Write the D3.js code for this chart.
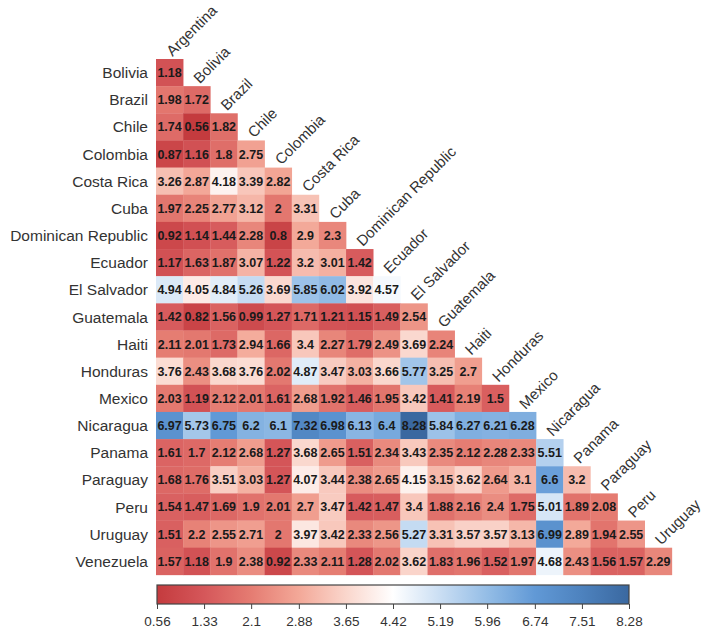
<!DOCTYPE html>
<html><head><meta charset="utf-8">
<script src="https://cdn.jsdelivr.net/npm/d3@7/dist/d3.min.js"></script>
<style>body{margin:0;background:#fff}svg{display:block}</style>
</head><body>
<script>
const columns = ["Argentina","Bolivia","Brazil","Chile","Colombia","Costa Rica","Cuba","Dominican Republic","Ecuador","El Salvador","Guatemala","Haiti","Honduras","Mexico","Nicaragua","Panama","Paraguay","Peru","Uruguay"];
const rows = ["Bolivia","Brazil","Chile","Colombia","Costa Rica","Cuba","Dominican Republic","Ecuador","El Salvador","Guatemala","Haiti","Honduras","Mexico","Nicaragua","Panama","Paraguay","Peru","Uruguay","Venezuela"];

const bolivia = [1.18];
const brazil = [1.98,1.72];
const chile = [1.74,0.56,1.82];
const colombia = [0.87,1.16,1.8,2.75];
const costaRica = [3.26,2.87,4.18,3.39,2.82];
const cuba = [1.97,2.25,2.77,3.12,2,3.31];
const dominicanRepublic = [0.92,1.14,1.44,2.28,0.8,2.9,2.3];
const ecuador = [1.17,1.63,1.87,3.07,1.22,3.2,3.01,1.42];
const elSalvador = [4.94,4.05,4.84,5.26,3.69,5.85,6.02,3.92,4.57];
const guatemala = [1.42,0.82,1.56,0.99,1.27,1.71,1.21,1.15,1.49,2.54];
const haiti = [2.11,2.01,1.73,2.94,1.66,3.4,2.27,1.79,2.49,3.69,2.24];
const honduras = [3.76,2.43,3.68,3.76,2.02,4.87,3.47,3.03,3.66,5.77,3.25,2.7];
const mexico = [2.03,1.19,2.12,2.01,1.61,2.68,1.92,1.46,1.95,3.42,1.41,2.19,1.5];
const nicaragua = [6.97,5.73,6.75,6.2,6.1,7.32,6.98,6.13,6.4,8.28,5.84,6.27,6.21,6.28];
const panama = [1.61,1.7,2.12,2.68,1.27,3.68,2.65,1.51,2.34,3.43,2.35,2.12,2.28,2.33,5.51];
const paraguay = [1.68,1.76,3.51,3.03,1.27,4.07,3.44,2.38,2.65,4.15,3.15,3.62,2.64,3.1,6.6,3.2];
const peru = [1.54,1.47,1.69,1.9,2.01,2.7,3.47,1.42,1.47,3.4,1.88,2.16,2.4,1.75,5.01,1.89,2.08];
const uruguay = [1.51,2.2,2.55,2.71,2,3.97,3.42,2.33,2.56,5.27,3.31,3.57,3.57,3.13,6.99,2.89,1.94,2.55];
const venezuela = [1.57,1.18,1.9,2.38,0.92,2.33,2.11,1.28,2.02,3.62,1.83,1.96,1.52,1.97,4.68,2.43,1.56,1.57,2.29];

const colorTicks = [0.56,1.33,2.1,2.88,3.65,4.42,5.19,5.96,6.74,7.51,8.28];
const colorStops = ["#c43b3e","#d5575a","#e57c72","#f3a898","#fad6cc","#ffffff","#cadef3","#94bde6","#6199d6","#4d82be","#3a68a0"];

const rowData = [bolivia,brazil,chile,colombia,costaRica,cuba,dominicanRepublic,ecuador,elSalvador,guatemala,haiti,honduras,mexico,nicaragua,panama,paraguay,peru,uruguay,venezuela];

const W = 708, H = 631;
const gx0 = 156, gy0 = 59, cs = 27.15;
const svg = d3.select("body").append("svg").attr("width", W).attr("height", H);

const x = d3.scaleBand().domain(columns).range([gx0, gx0 + cs * columns.length]).padding(0);
const y = d3.scaleBand().domain(rows).range([gy0, gy0 + cs * rows.length]).padding(0);
const color = d3.scaleLinear().domain(colorTicks).range(colorStops).interpolate(d3.interpolateRgb).clamp(true);

const cells = [];
rowData.forEach((vals, i) => vals.forEach((v, j) => cells.push({row: rows[i], col: columns[j], v})));

const font = "'Liberation Sans', Arial, sans-serif";

svg.append("g").selectAll("rect").data(cells).join("rect")
  .attr("x", d => x(d.col)).attr("y", d => y(d.row))
  .attr("width", x.bandwidth() + 0.3).attr("height", y.bandwidth() + 0.3)
  .attr("fill", d => color(d.v));

svg.append("g").selectAll("text").data(cells).join("text")
  .attr("x", d => x(d.col) + x.bandwidth() / 2)
  .attr("y", d => y(d.row) + y.bandwidth() / 2)
  .attr("dy", "0.36em").attr("text-anchor", "middle")
  .attr("font-family", font).attr("font-weight", "bold").attr("font-size", 12.5)
  .attr("fill", "#1a1a1a").text(d => d.v);

// row labels
svg.append("g").selectAll("text").data(rows).join("text")
  .attr("x", gx0 - 8).attr("y", d => y(d) + y.bandwidth() / 2)
  .attr("dy", "0.36em").attr("text-anchor", "end")
  .attr("font-family", font).attr("font-size", 15.5).attr("fill", "#333")
  .text(d => d);

// column labels (diagonal)
svg.append("g").selectAll("text").data(columns).join("text")
  .attr("transform", (d, j) => {
    const cx = x(d) + x.bandwidth() / 2 + 3;
    const cy = y(rows[j]) - 2;
    return `translate(${cx},${cy}) rotate(-45)`;
  })
  .attr("text-anchor", "start")
  .attr("font-family", font).attr("font-size", 15).attr("fill", "#333")
  .text(d => d);

// colorbar
const cbX0 = 157, cbX1 = 629, cbY = 585, cbH = 19;
const cbScale = d3.scaleLinear().domain([colorTicks[0], colorTicks[colorTicks.length - 1]]).range([cbX0, cbX1]);
const grad = svg.append("defs").append("linearGradient").attr("id", "cbgrad")
  .attr("x1", "0%").attr("x2", "100%").attr("y1", "0%").attr("y2", "0%");
colorTicks.forEach((t, i) => {
  grad.append("stop").attr("offset", ((t - colorTicks[0]) / (colorTicks[colorTicks.length-1] - colorTicks[0]) * 100) + "%")
    .attr("stop-color", colorStops[i]);
});
svg.append("rect").attr("x", cbX0).attr("y", cbY).attr("width", cbX1 - cbX0).attr("height", cbH)
  .attr("fill", "url(#cbgrad)").attr("stroke", "#444").attr("stroke-width", 1.2);

const cbAxis = d3.axisBottom(cbScale).tickValues(colorTicks).tickSize(5).tickFormat(d => d);
const ag = svg.append("g").attr("transform", `translate(0,${cbY + cbH})`).call(cbAxis);
ag.select(".domain").remove();
ag.selectAll(".tick line").attr("stroke", "#444");
ag.selectAll(".tick text").attr("font-family", font).attr("font-size", 13.5).attr("fill", "#333").attr("dy", "1.0em");
</script>
</body></html>
